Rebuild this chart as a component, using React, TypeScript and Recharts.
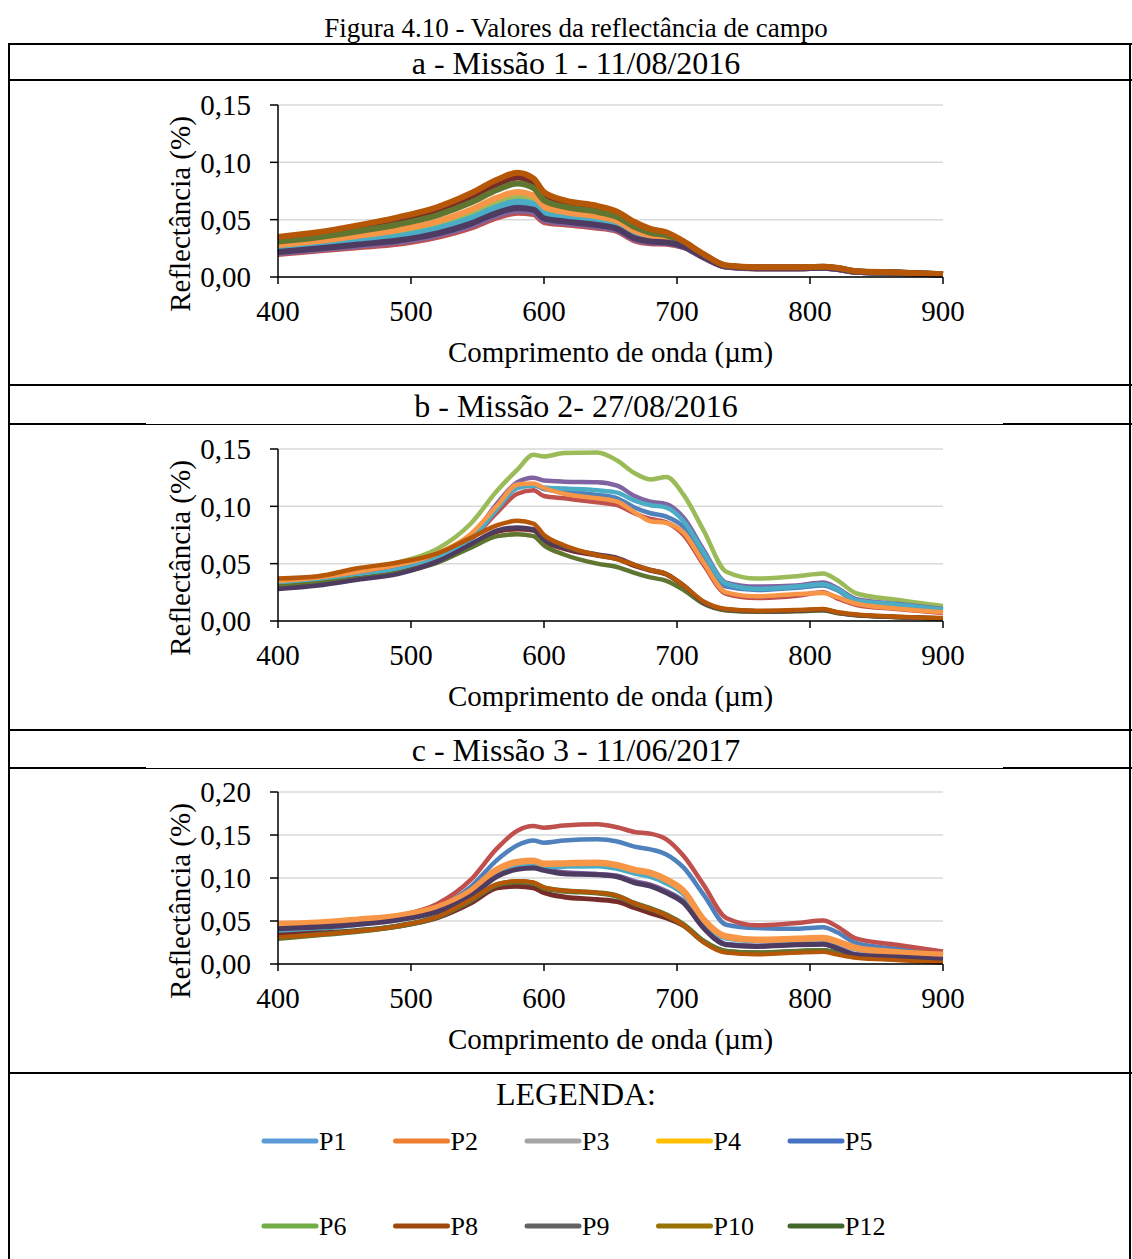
import { LineChart, Line, XAxis, YAxis, CartesianGrid } from 'recharts';

const FONT = '"Liberation Serif", "Times New Roman", serif';

// comprimento de onda (eixo x)
const WAVELENGTHS = [400, 430, 460, 490, 520, 545, 565, 580, 592, 600, 615, 640, 655, 668, 680, 692, 705, 720, 737, 760, 790, 810, 820, 835, 865, 900];
const X_TICKS = [400, 500, 600, 700, 800, 900];
const Y_TICKS_AB = [0, 0.05, 0.1, 0.15];
const Y_TICKS_C = [0, 0.05, 0.1, 0.15, 0.2];

const SERIES = ['P1', 'P2', 'P3', 'P4', 'P5', 'P6', 'P8', 'P9', 'P10', 'P12'];
const LINE_COLORS = ['#4F81BD', '#C0504D', '#9BBB59', '#8064A2', '#4BACC6', '#F79646', '#772C2A', '#5F7530', '#4D3B62', '#B65708'];
const LEGEND_COLORS = ['#5B9BD5', '#ED7D31', '#A5A5A5', '#FFC000', '#4472C4', '#70AD47', '#9E480E', '#636363', '#997300', '#43682B'];

// a - Missão 1
const m1P1 = [.0233, .0265, .0302, .0341, .0407, .0496, .0593, .0637, .0618, .0537, .0506, .0472, .0437, .0355, .0323, .0312, .0271, .0177, .0092, .0077, .0077, .0082, .0072, .0046, .0036, .0021];
const m1P2 = [.020, .023, .026, .029, .035, .043, .052, .056, .055, .048, .046, .043, .040, .032, .0295, .029, .026, .017, .009, .0075, .0075, .008, .007, .0045, .0035, .002];
const m1P3 = [.0257, .0291, .0332, .0377, .0449, .0544, .0645, .0693, .0668, .0579, .0540, .0502, .0465, .0381, .0343, .0328, .0279, .0181, .0094, .0079, .0079, .0084, .0074, .0047, .0037, .0022];
const m1P4 = [.0209, .0240, .0271, .0304, .0366, .0448, .0540, .0581, .0569, .0496, .0473, .0441, .0410, .0330, .0303, .0296, .0263, .0172, .0091, .0076, .0076, .0081, .0071, .0045, .0035, .0020];
const m1P5 = [.0242, .0275, .0313, .0354, .0423, .0514, .0612, .0658, .0637, .0553, .0519, .0483, .0448, .0365, .0330, .0318, .0274, .0178, .0093, .0078, .0078, .0083, .0073, .0046, .0036, .0021];
const m1P6 = [.0278, .0313, .0359, .0410, .0485, .0586, .0692, .0742, .0711, .0615, .0569, .0529, .0488, .0403, .0360, .0342, .0286, .0186, .0095, .0080, .0080, .0085, .0075, .0048, .0038, .0023];
const m1P8 = [.0332, .0371, .0427, .0492, .0579, .0694, .0810, .0868, .0823, .0709, .0645, .0597, .0550, .0461, .0405, .0378, .0304, .0196, .0099, .0084, .0084, .0089, .0079, .0049, .0039, .0024];
const m1P9 = [.0310, .0347, .0399, .0458, .0540, .0649, .0761, .0816, .0776, .0670, .0613, .0569, .0524, .0437, .0386, .0363, .0297, .0192, .0097, .0082, .0082, .0087, .0077, .0049, .0039, .0024];
const m1P10 = [.0218, .0249, .0283, .0318, .0381, .0466, .0560, .0602, .0587, .0511, .0485, .0453, .0420, .0339, .0310, .0302, .0266, .0174, .0091, .0076, .0076, .0081, .0071, .0046, .0036, .0021];
const m1P12 = [.035, .039, .045, .052, .061, .073, .085, .091, .086, .074, .067, .062, .057, .048, .042, .039, .031, .020, .010, .0085, .0085, .009, .008, .005, .004, .0025];

// b - Missão 2
const m2P1 = [.031, .034, .039, .046, .056, .073, .100, .117, .119, .115, .113, .110, .107, .099, .094, .091, .082, .056, .030, .027, .029, .031, .027, .017, .014, .0095];
const m2P2 = [.032, .035, .040, .045, .055, .071, .095, .111, .114, .109, .107, .1035, .101, .094, .089, .086, .075, .049, .0237, .020, .022, .025, .020, .014, .0105, .007];
const m2P3 = [.034, .037, .044, .051, .063, .085, .114, .132, .145, .1435, .1465, .147, .140, .129, .1235, .1255, .110, .079, .043, .037, .039, .0415, .036, .024, .0185, .013];
const m2P4 = [.030, .034, .039, .045, .055, .072, .103, .121, .125, .1225, .1215, .121, .118, .109, .104, .102, .090, .062, .0335, .030, .031, .0335, .029, .019, .015, .0105];
const m2P5 = [.031, .034, .039, .045, .055, .071, .098, .116, .118, .1165, .1155, .114, .112, .105, .101, .099, .087, .060, .0325, .028, .030, .032, .028, .018, .0145, .010];
const m2P6 = [.035, .038, .043, .049, .059, .076, .101, .119, .120, .116, .111, .107, .104, .095, .087, .0855, .077, .051, .025, .0215, .0235, .0245, .021, .015, .011, .0076];
const m2P8 = [.029, .032, .037, .042, .052, .066, .078, .080, .079, .070, .063, .057, .054, .048, .044, .0405, .0305, .016, .0098, .0085, .009, .0098, .0074, .0052, .0035, .0022];
const m2P9 = [.030, .033, .037, .042, .051, .064, .074, .0757, .074, .066, .058, .050, .047, .042, .038, .035, .027, .015, .0092, .008, .0085, .0092, .007, .005, .0033, .002];
const m2P10 = [.028, .031, .036, .041, .052, .067, .079, .0816, .080, .071, .064, .058, .055, .049, .0445, .041, .031, .016, .010, .0085, .009, .010, .0075, .0052, .0035, .0022];
const m2P12 = [.037, .039, .046, .051, .059, .0725, .0836, .0874, .085, .075, .066, .0575, .054, .049, .0445, .041, .031, .017, .0105, .009, .0095, .0105, .0078, .0056, .0038, .0026];

// c - Missão 3
const m3P1 = [.041, .043, .047, .054, .066, .090, .1214, .138, .1436, .141, .1435, .145, .1425, .1365, .1333, .1274, .112, .0807, .0457, .0418, .041, .0428, .0372, .0243, .0177, .0105];
const m3P2 = [.044, .046, .049, .056, .070, .098, .135, .155, .1605, .1585, .161, .1625, .159, .1535, .1515, .145, .1255, .092, .0535, .045, .0477, .0505, .044, .0294, .0224, .0146];
const m3P3 = [.045, .047, .050, .055, .065, .084, .109, .118, .1195, .116, .1165, .1175, .1148, .1095, .1062, .0985, .0855, .052, .0315, .028, .029, .030, .026, .018, .0135, .0104];
const m3P4 = [.042, .044, .047, .052, .062, .080, .104, .112, .1135, .110, .1065, .1045, .1025, .096, .092, .0845, .0725, .043, .023, .021, .0228, .0235, .019, .011, .0085, .006];
const m3P5 = [.038, .041, .046, .053, .064, .083, .107, .116, .1175, .113, .1135, .114, .111, .1055, .1015, .094, .081, .049, .030, .027, .028, .029, .025, .017, .013, .010];
const m3P6 = [.0465, .048, .0516, .056, .066, .085, .110, .1187, .120, .1165, .117, .1178, .115, .1095, .106, .098, .0846, .0516, .032, .0282, .0294, .0302, .0263, .0185, .0138, .0107];
const m3P8 = [.0333, .036, .039, .044, .054, .071, .0885, .0905, .0885, .083, .078, .075, .0725, .0655, .0593, .0535, .0445, .026, .0146, .0127, .0146, .0154, .0127, .0088, .006, .0037];
const m3P9 = [.030, .034, .038, .044, .055, .074, .0924, .0955, .094, .0885, .085, .0827, .079, .0705, .0644, .057, .0457, .0263, .0146, .0127, .0146, .0154, .0127, .0088, .006, .0037];
const m3P10 = [.041, .043, .046, .051, .061, .079, .102, .110, .1117, .1089, .105, .1039, .1015, .0945, .0905, .0827, .071, .0418, .0224, .0204, .0224, .023, .0185, .0105, .008, .0055];
const m3P12 = [.031, .034, .038, .044, .055, .075, .093, .0965, .095, .089, .0855, .083, .0795, .0705, .064, .0565, .045, .025, .013, .011, .013, .014, .011, .007, .0045, .0015];

const MISSAO1 = [m1P1, m1P2, m1P3, m1P4, m1P5, m1P6, m1P8, m1P9, m1P10, m1P12];
const MISSAO2 = [m2P1, m2P2, m2P3, m2P4, m2P5, m2P6, m2P8, m2P9, m2P10, m2P12];
const MISSAO3 = [m3P1, m3P2, m3P3, m3P4, m3P5, m3P6, m3P8, m3P9, m3P10, m3P12];

const buildRows = (values: number[][]) =>
  WAVELENGTHS.map((nm, i) => {
    const row: Record<string, number> = { nm };
    SERIES.forEach((key, s) => {
      row[key] = values[s][i];
    });
    return row;
  });

const fmt = (v: number) => v.toFixed(2).replace('.', ',');

// rótulo do eixo y, um pouco abaixo do centro como no original
function YLabel(props: any) {
  const { x = 0, y = 0, height = 0 } = props.viewBox || {};
  const cx = x + 12;
  const cy = y + height / 2 + 23;
  return (
    <text x={cx} y={cy} dy="0.34em" textAnchor="middle" transform={`rotate(-90, ${cx}, ${cy})`} fontSize={29} fontFamily={FONT} fill="#000">
      Reflectância (%)
    </text>
  );
}

interface PanelProps {
  top: number;
  values: number[][];
  yMax: number;
  yTicks: number[];
  widths: number[];
}

function Panel({ top, values, yMax, yTicks, widths }: PanelProps) {
  const axisText = { fill: '#000', fontSize: 29, fontFamily: FONT };
  return (
    <div style={{ position: 'absolute', left: 0, top }}>
      <LineChart width={1000} height={305} data={buildRows(values)} margin={{ top: 25, right: 57, bottom: 18, left: 168 }}>
        <CartesianGrid vertical={false} stroke="#D9D9D9" strokeWidth={1.5} />
        <XAxis
          dataKey="nm"
          type="number"
          domain={[400, 900]}
          ticks={X_TICKS}
          height={90}
          tick={axisText}
          tickSize={7}
          tickMargin={16}
          axisLine={{ stroke: '#000', strokeWidth: 1.5 }}
          tickLine={{ stroke: '#000', strokeWidth: 1.5 }}
          label={{ value: 'Comprimento de onda (µm)', position: 'insideBottom', offset: 5, fill: '#000', fontSize: 29, fontFamily: FONT }}
        />
        <YAxis
          type="number"
          domain={[0, yMax]}
          ticks={yTicks}
          width={110}
          tickFormatter={fmt}
          tick={axisText}
          tickSize={8}
          tickMargin={19}
          axisLine={{ stroke: '#000', strokeWidth: 1.5 }}
          tickLine={{ stroke: '#000', strokeWidth: 1.5 }}
          label={<YLabel />}
        />
        {SERIES.map((key, i) => (
          <Line
            key={key}
            type="monotone"
            dataKey={key}
            stroke={LINE_COLORS[i]}
            strokeWidth={widths[i]}
            strokeLinejoin="round"
            dot={false}
            isAnimationActive={false}
          />
        ))}
      </LineChart>
    </div>
  );
}

function Title({ text, center, size }: { text: string; center: number; size: number }) {
  return (
    <div style={{ position: 'absolute', left: 20, width: 1112, top: center - size / 2, textAlign: 'center', fontSize: size, lineHeight: `${size}px`, whiteSpace: 'nowrap' }}>
      {text}
    </div>
  );
}

function HLine({ y, x1 = 8, x2 = 1132, w = 2 }: { y: number; x1?: number; x2?: number; w?: number }) {
  return <div style={{ position: 'absolute', left: x1, width: x2 - x1, top: y - w / 2, height: w, background: '#000' }} />;
}

function SplitLine({ y }: { y: number }) {
  return (
    <>
      <HLine y={y} x1={8} x2={146} />
      <HLine y={y} x1={146} x2={1003} w={1} />
      <HLine y={y} x1={1003} x2={1132} />
    </>
  );
}

export default function App() {
  return (
    <div style={{ position: 'absolute', left: 0, top: 0, width: 1132, height: 1259, background: '#fff', fontFamily: FONT, color: '#000', overflow: 'hidden' }}>
      <Title text="Figura 4.10 - Valores da reflectância de campo" center={28} size={27} />

      <HLine y={44} />
      <div style={{ position: 'absolute', left: 8, top: 43, width: 2, height: 1216, background: '#000' }} />
      <div style={{ position: 'absolute', left: 1129, top: 43, width: 2, height: 1216, background: '#000' }} />

      <Title text="a - Missão 1 - 11/08/2016" center={63} size={32} />
      <HLine y={80} />
      <Panel top={80} values={MISSAO1} yMax={0.15} yTicks={Y_TICKS_AB} widths={[6, 6, 6, 6, 6, 6, 6, 6, 6, 6]} />
      <HLine y={385} />

      <Title text="b - Missão 2- 27/08/2016" center={406} size={32} />
      <SplitLine y={424} />
      <Panel top={424} values={MISSAO2} yMax={0.15} yTicks={Y_TICKS_AB} widths={[4.5, 4.5, 4.5, 4.5, 4.5, 4.5, 4.5, 4.5, 4.5, 4.5]} />
      <HLine y={730} />

      <Title text="c - Missão 3 - 11/06/2017" center={750} size={32} />
      <SplitLine y={768} />
      <Panel top={767} values={MISSAO3} yMax={0.2} yTicks={Y_TICKS_C} widths={[4.5, 4.5, 5, 5, 5, 6.5, 5, 5.5, 5, 4]} />
      <HLine y={1073} />

      <Title text="LEGENDA:" center={1094} size={32} />
      <svg style={{ position: 'absolute', left: 0, top: 1110 }} width={1132} height={149}>
        {SERIES.map((key, i) => {
          const col = i % 5;
          const y = i < 5 ? 31 : 116;
          const x = 264 + col * 131.5;
          return (
            <g key={key}>
              <line x1={x} x2={x + 52} y1={y} y2={y} stroke={LEGEND_COLORS[i]} strokeWidth={5} strokeLinecap="round" />
              <text x={x + 55} y={y + 9} fontSize={26} fontFamily={FONT} fill="#000">{key}</text>
            </g>
          );
        })}
      </svg>
    </div>
  );
}
